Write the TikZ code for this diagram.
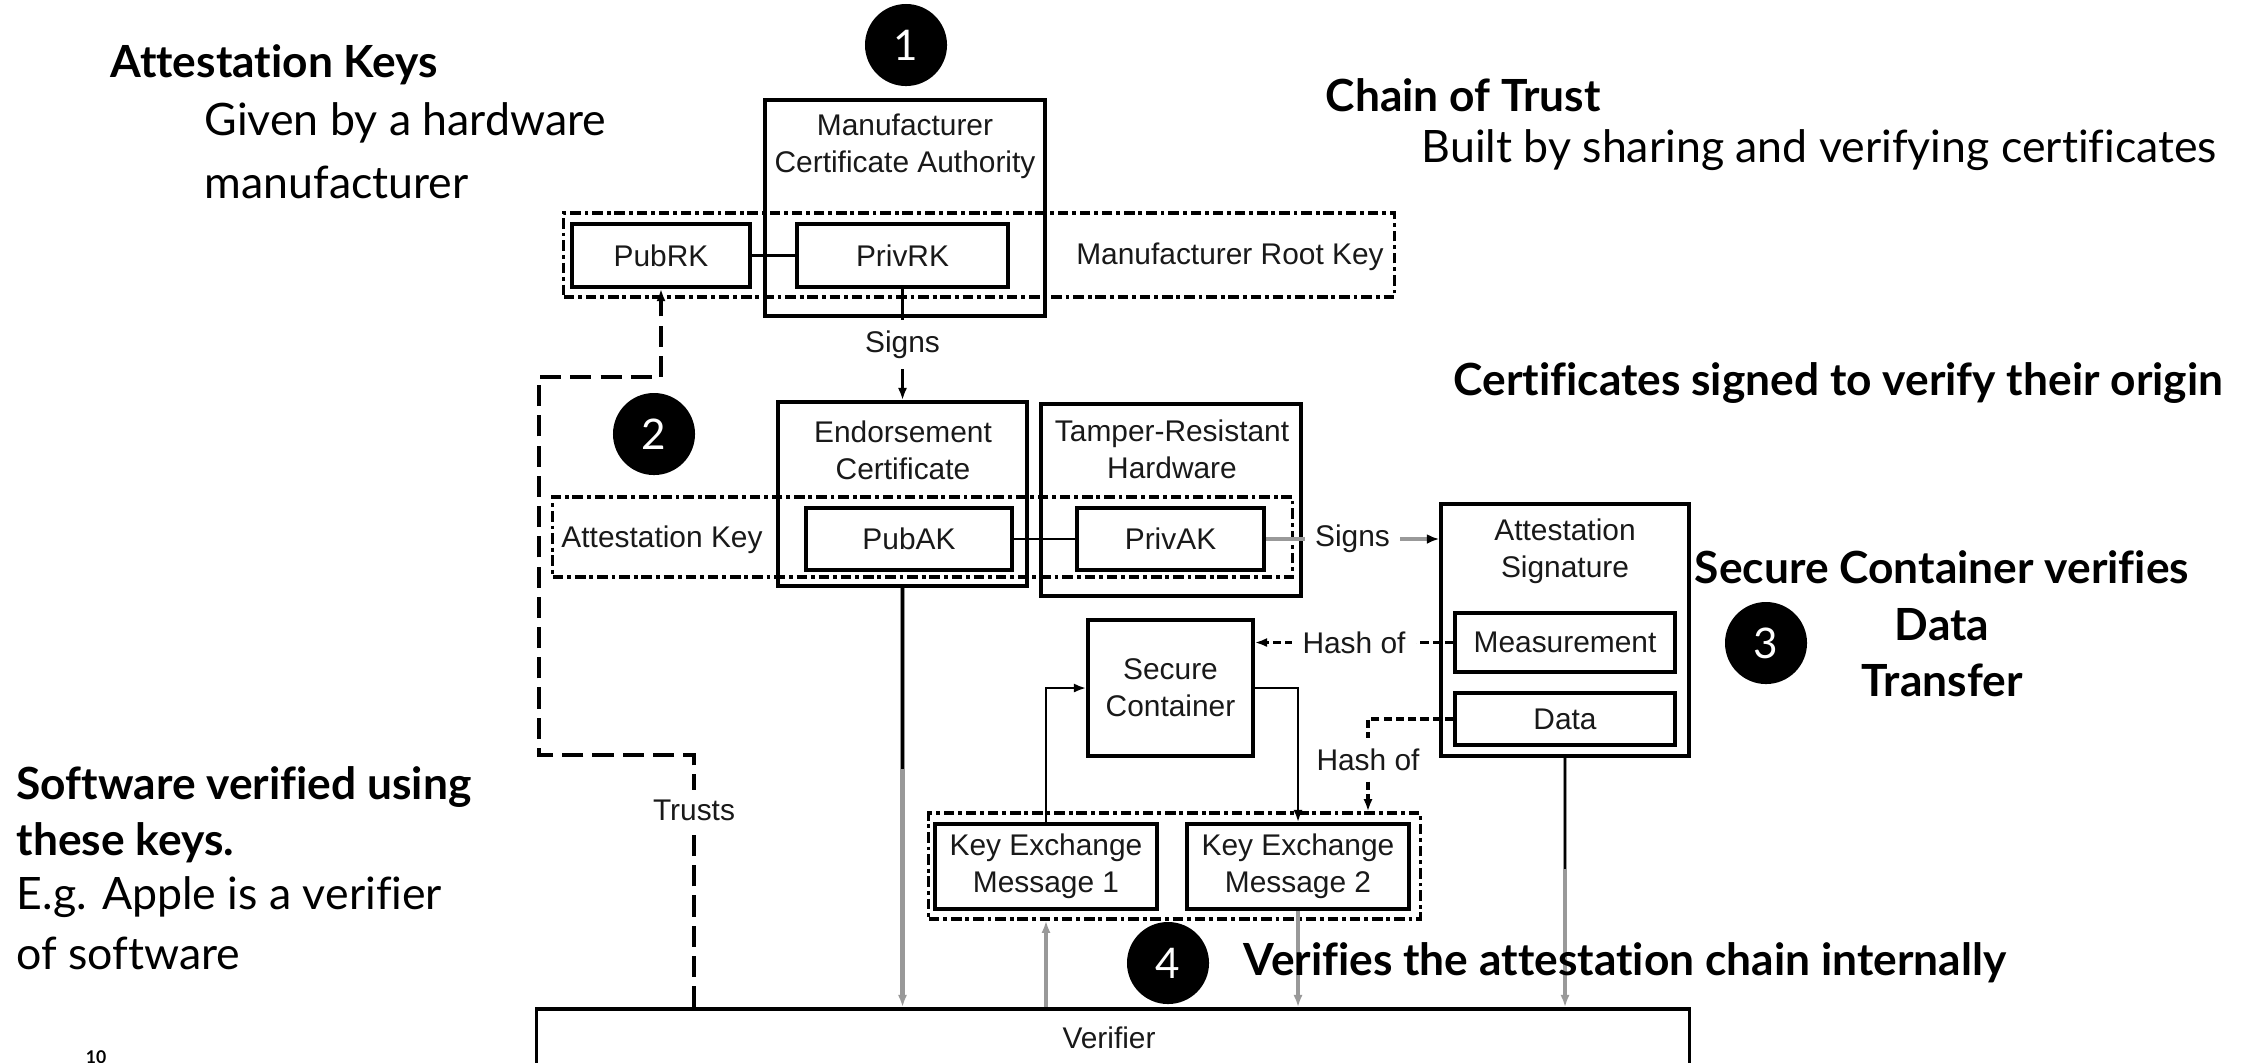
\documentclass[tikz,border=0pt]{standalone}
\usepackage{fontspec}
\setmainfont{Liberation Sans}
\newfontfamily\annfont[Ligatures=NoCommon]{Lato}
\usetikzlibrary{arrows.meta,calc}

\tikzset{
  dtxt/.style={font=\fontsize{8.5pt}{10.5pt}\selectfont, align=center, inner sep=0pt, text=black!90},
  box/.style={draw, line width=1pt, rectangle, inner sep=0pt, dtxt},
  grp/.style={draw, line width=0.9pt, dash pattern=on 3pt off 1.1pt on 1.1pt off 1.1pt, rectangle, inner sep=0pt},
  conn/.style={line width=0.75pt},
  tip/.style={-{Latex[length=3.5pt,width=2.6pt]}},
  faint/.style={line width=1.4pt, draw=black!40},
  hashln/.style={line width=0.9pt, dash pattern=on 2.3pt off 1.2pt},
  trustln/.style={line width=0.9pt, dash pattern=on 6pt off 2.6pt},
  lbl/.style={dtxt, fill=white, inner sep=3pt},
  badge/.style={circle, fill=black, minimum size=0.82cm, inner sep=0pt, text=white, font=\annfont\fontsize{12pt}{12pt}\selectfont},
  ann/.style={anchor=west, inner sep=0pt, font=\annfont\fontsize{12.7pt}{14pt}\selectfont},
  annb/.style={anchor=west, inner sep=0pt, font=\annfont\bfseries\fontsize{12.6pt}{14pt}\selectfont},
}

\begin{document}
\begin{tikzpicture}[x=0.01cm, y=-0.01cm]
\useasboundingbox (0,0) rectangle (2252,1062);
\clip (0,0) rectangle (2252,1062);
\fill[white] (0,0) rectangle (2252,1062);

% --- manufacturer certificate authority and root key ---
\node[box, minimum width=2.80cm, minimum height=2.16cm] (ca) at (905,208) {};
\node[dtxt] (catxt) at (905,146) {Manufacturer\\Certificate Authority};
\node[box, minimum width=1.78cm, minimum height=0.63cm] (pubrk) at (661,255.5) {PubRK};
\node[box, minimum width=2.11cm, minimum height=0.63cm] (privrk) at (902.5,255.5) {PrivRK};
\node[grp, minimum width=8.30cm, minimum height=0.84cm] (rootgrp) at (979,255) {};
\node[dtxt] (rootlbl) at (1230,257) {Manufacturer Root Key};

% --- endorsement certificate and tamper-resistant hardware ---
\node[box, minimum width=2.49cm, minimum height=1.84cm] (endorse) at (902.5,494) {};
\node[dtxt] (endtxt) at (903,450) {Endorsement\\Certificate};
\node[box, minimum width=2.60cm, minimum height=1.92cm] (tamper) at (1171,500) {};
\node[dtxt] (tamtxt) at (1172,449) {Tamper-Resistant\\Hardware};
\node[box, minimum width=2.06cm, minimum height=0.62cm] (pubak) at (909,539) {PubAK};
\node[box, minimum width=1.87cm, minimum height=0.62cm] (privak) at (1170.5,539) {PrivAK};
\node[grp, minimum width=7.39cm, minimum height=0.80cm] (akgrp) at (922.5,537) {};
\node[dtxt] (aklbl) at (662,540) {Attestation Key};

% --- attestation signature ---
\node[box, minimum width=2.48cm, minimum height=2.52cm] (attsig) at (1565,630) {};
\node[dtxt] (atttxt) at (1565,551.5) {Attestation\\Signature};
\node[box, minimum width=2.20cm, minimum height=0.59cm] (meas) at (1565,642.5) {Measurement};
\node[box, minimum width=2.20cm, minimum height=0.52cm] (datab) at (1565,719) {Data};

% --- secure container and key exchange ---
\node[box, minimum width=1.65cm, minimum height=1.36cm] (sc) at (1170.5,688) {Secure\\Container};
\node[box, minimum width=2.22cm, minimum height=0.85cm] (ke1) at (1046,866.5) {Key Exchange\\Message 1};
\node[box, minimum width=2.22cm, minimum height=0.85cm] (ke2) at (1298,866.5) {Key Exchange\\Message 2};
\node[grp, minimum width=4.91cm, minimum height=1.06cm] (kegrp) at (1174.5,866) {};

% --- verifier ---
\node[box, minimum width=11.52cm, minimum height=1.20cm] (verifier) at (1113,1069) {};
\node[dtxt] (vertxt) at (1109,1038) {Verifier};

% --- connectors ---
\draw[conn] (pubrk) -- (privrk);
\draw[conn, tip] (privrk.south) -- node[lbl] (sg1) {Signs} (endorse.north);
\draw[conn] (pubak.east) -- (privak.west);
\draw[faint, -{Latex[length=3.5pt,width=2.8pt,color=black]}] (privak.east) -- node[lbl] (sg2) {Signs} (privak.east -| attsig.west);
\draw[hashln, tip] (meas.west) -- node[lbl] (h1) {Hash of} (meas.west -| sc.east);
\coordinate (hturn) at (1368,719);
\draw[hashln, tip] (datab.west) -- (hturn) -- node[lbl, pos=0.44] (h2) {Hash of} (hturn |- kegrp.north);
\draw[conn, tip] (ke1.north) |- (sc.west);
\draw[conn, tip] (sc.east) -| (ke2.north);

\draw[faint, tip] (endorse.south) -- (endorse.south |- verifier.north);
\draw[conn] (endorse.south) -- ++(0,181);
\draw[faint, tip] (ke1.south |- verifier.north) -- (ke1.south |- kegrp.south);
\draw[faint, tip] (ke2.south) -- (ke2.south |- verifier.north);
\draw[faint, tip] (attsig.south) -- (attsig.south |- verifier.north);
\draw[conn] (attsig.south) -- ++(0,111);

\coordinate (t1) at (694,755);
\coordinate (t2) at (539,755);
\coordinate (t3) at (539,377);
\coordinate (t4) at (661,377);
\draw[trustln, tip] (t1 |- verifier.north) -- node[lbl, pos=0.78] (trl) {Trusts} (t1) -- (t2) -- (t3) -- (t4) -- (pubrk.south);

% --- numbered badges ---
\node[badge] (b1) at (906,45) {1};
\node[badge] (b2) at (654,434) {2};
\node[badge] (b3) at (1766,643) {3};
\node[badge] (b4) at (1168,963) {4};

% --- annotations ---
\node[annb] (a1) at (110,65) {Attestation Keys};
\node[ann] (a2) at (204,123) {Given by a hardware};
\node[ann] (a3) at (204,182) {manufacturer};
\node[annb] (a4) at (1325,95) {Chain of Trust};
\node[ann] (a5) at (1421,150) {Built by sharing and verifying certificates};
\node[annb] (a6) at (1453,383) {Certificates signed to verify their origin};
\node[annb, anchor=center] (a7) at (1942,567) {Secure Container verifies};
\node[annb, anchor=center] (a8) at (1942,625) {Data};
\node[annb, anchor=center] (a9) at (1942,680) {Transfer};
\node[annb] (a10) at (1243,963) {Verifies the attestation chain internally};
\node[annb] (a11) at (16,787) {Software verified using};
\node[annb] (a12) at (16,843) {these keys.};
\node[ann] (a13) at (16,897) {E.g. Apple is a verifier};
\node[ann] (a14) at (16,953) {of software};
\node[inner sep=0pt, font=\annfont\bfseries\fontsize{5pt}{5pt}\selectfont] (pg) at (96,1057) {10};
\end{tikzpicture}
\end{document}
